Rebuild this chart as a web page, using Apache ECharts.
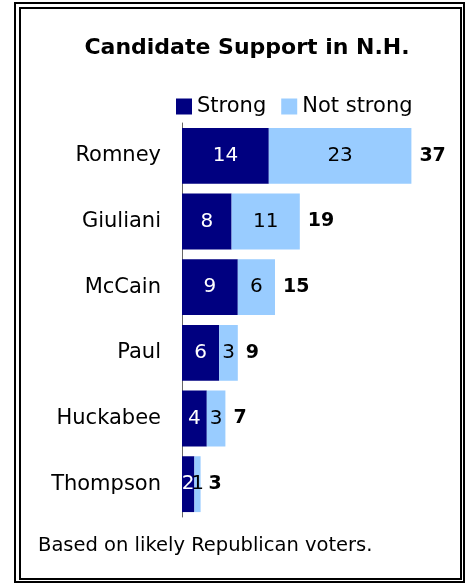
<!DOCTYPE html>
<html>
<head>
<meta charset="utf-8">
<script src="https://cdn.jsdelivr.net/npm/echarts@6/dist/echarts.min.js"></script>
<style>
  html, body { margin: 0; padding: 0; background: #fff; }
  #chart { width: 465px; height: 583px; }
</style>
</head>
<body>
<div id="chart"></div>
<script>
const candidates = ['Romney', 'Giuliani', 'McCain', 'Paul', 'Huckabee', 'Thompson']
const strong = [14, 8, 9, 6, 4, 2]
const notStrong = [23, 11, 6, 3, 3, 1]
const totals = [37, 19, 15, 9, 7, 3]

const font = 'DejaVu Sans'
const chart = echarts.init(document.getElementById('chart'))

chart.setOption({
    animation: false,
    title: {
        text: 'Candidate Support in N.H.',
        left: 242,
        top: 32,
        textAlign: 'center',
        textStyle: {
            fontFamily: font,
            fontSize: 22,
            fontWeight: 'bold',
            color: '#000'
        }
    },
    legend: {
        left: 176,
        top: 96,
        padding: 0,
        itemWidth: 16,
        itemHeight: 16,
        itemGap: 15,
        icon: 'rect',
        data: ['Strong', 'Not strong'],
        textStyle: {
            fontFamily: font,
            fontSize: 21,
            color: '#000'
        }
    },
    grid: {
        left: 182,
        top: 123,
        width: 248,
        height: 394
    },
    xAxis: {
        type: 'value',
        min: 0,
        max: 40,
        show: false
    },
    yAxis: {
        type: 'category',
        inverse: true,
        data: candidates,
        axisTick: { show: false },
        axisLine: {
            lineStyle: { color: '#666', width: 1 }
        },
        axisLabel: {
            margin: 21,
            fontFamily: font,
            fontSize: 21,
            color: '#000'
        }
    },
    series: [
        {
            name: 'Strong',
            type: 'bar',
            stack: 'all',
            barCategoryGap: '15%',
            data: strong,
            itemStyle: { color: '#000080' },
            label: {
                show: true,
                position: 'inside',
                fontFamily: font,
                fontSize: 20,
                color: '#fff'
            }
        },
        {
            name: 'Not strong',
            type: 'bar',
            stack: 'all',
            data: notStrong,
            itemStyle: { color: '#99ccff' },
            label: {
                show: true,
                position: 'inside',
                fontFamily: font,
                fontSize: 20,
                color: '#000'
            }
        },
        {
            name: 'Total',
            type: 'bar',
            barGap: '-100%',
            data: totals,
            z: 0,
            itemStyle: { color: 'rgba(0,0,0,0)' },
            label: {
                show: true,
                position: 'right',
                distance: 8,
                fontFamily: font,
                fontSize: 19,
                fontWeight: 'bold',
                color: '#000'
            }
        }
    ],
    graphic: [
        {
            type: 'rect',
            shape: { x: 15, y: 3, width: 449, height: 579 },
            style: { fill: 'none', stroke: '#000', lineWidth: 2 }
        },
        {
            type: 'rect',
            shape: { x: 20, y: 8, width: 441, height: 571 },
            style: { fill: 'none', stroke: '#000', lineWidth: 2 }
        },
        {
            type: 'text',
            left: 38,
            top: 536,
            style: {
                text: 'Based on likely Republican voters.',
                fontFamily: font,
                fontSize: 19.5,
                fill: '#000'
            }
        }
    ]
})
</script>
</body>
</html>
